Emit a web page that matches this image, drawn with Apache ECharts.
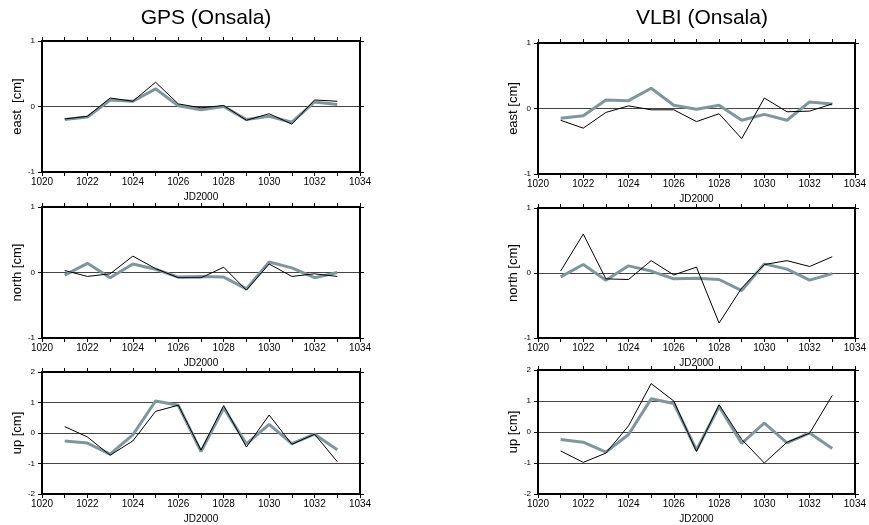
<!DOCTYPE html>
<html>
<head>
<meta charset="utf-8">
<script src="https://cdn.jsdelivr.net/npm/echarts@6/dist/echarts.min.js"></script>
<style>html,body{margin:0;padding:0;background:#fff}#c{width:869px;height:525px}</style>
</head>
<body>
<div id="c"></div>
<script>
const days = [1021,1022,1023,1024,1025,1026,1027,1028,1029,1030,1031,1032,1033];

const gpsEastBlack = [-0.19,-0.15,0.13,0.08,0.37,0.04,-0.02,0.015,-0.21,-0.11,-0.27,0.10,0.08];
const gpsEastGray  = [-0.20,-0.16,0.10,0.08,0.27,0.01,-0.05,0.00,-0.20,-0.15,-0.24,0.07,0.03];
const vlbiEastBlack = [-0.18,-0.30,-0.06,0.04,-0.02,-0.02,-0.20,-0.08,-0.46,0.16,-0.05,-0.04,0.07];
const vlbiEastGray  = [-0.15,-0.11,0.13,0.12,0.31,0.05,-0.01,0.05,-0.18,-0.09,-0.18,0.10,0.07];

const gpsNorthBlack = [0.03,-0.06,-0.02,0.25,0.06,-0.08,-0.08,0.08,-0.27,0.13,-0.06,-0.02,-0.06];
const gpsNorthGray  = [-0.04,0.14,-0.08,0.13,0.05,-0.07,-0.06,-0.07,-0.25,0.16,0.07,-0.08,0.00];
const vlbiNorthBlack = [0.03,0.60,-0.09,-0.10,0.19,-0.03,0.09,-0.77,-0.23,0.13,0.19,0.10,0.25];
const vlbiNorthGray  = [-0.06,0.13,-0.11,0.11,0.03,-0.09,-0.08,-0.10,-0.27,0.14,0.06,-0.11,-0.01];

const gpsUpBlack = [0.21,-0.13,-0.73,-0.26,0.71,0.91,-0.56,0.90,-0.46,0.59,-0.37,-0.04,-0.94];
const gpsUpGray  = [-0.26,-0.33,-0.69,-0.06,1.05,0.91,-0.61,0.82,-0.36,0.28,-0.35,-0.04,-0.55];
const vlbiUpBlack = [-0.61,-0.98,-0.68,0.20,1.56,1.00,-0.63,0.88,-0.24,-1.00,-0.33,-0.04,1.18];
const vlbiUpGray  = [-0.24,-0.33,-0.65,-0.08,1.07,0.92,-0.58,0.82,-0.37,0.29,-0.35,-0.03,-0.53];

const titles = ['GPS (Onsala)', 'VLBI (Onsala)'];
const xName = 'JD2000';

const panels = [
  {name:'east  [cm]', black:gpsEastBlack, gray:gpsEastGray, yMin:-1, yMax:1, box:{left:42, top:41, width:318, height:131}},
  {name:'east [cm]', black:vlbiEastBlack, gray:vlbiEastGray, yMin:-1, yMax:1, box:{left:538, top:43, width:317, height:131}},
  {name:'north [cm]', black:gpsNorthBlack, gray:gpsNorthGray, yMin:-1, yMax:1, box:{left:42, top:207, width:318, height:131}},
  {name:'north [cm]', black:vlbiNorthBlack, gray:vlbiNorthGray, yMin:-1, yMax:1, box:{left:538, top:208, width:317, height:130}},
  {name:'up [cm]', black:gpsUpBlack, gray:gpsUpGray, yMin:-2, yMax:2, box:{left:42, top:372, width:318, height:130}},
  {name:'up [cm]', black:vlbiUpBlack, gray:vlbiUpGray, yMin:-2, yMax:2, box:{left:538, top:370, width:317, height:131}}
];

const FONT = 'Liberation Sans, Arial, Helvetica, sans-serif';
const grid = [], xAxis = [], yAxis = [], series = [];
const lineStyle = {color:'#000', width:2};

panels.forEach((p, i) => {
  grid.push(Object.assign({containLabel:false}, p.box));
  xAxis.push({
    type:'value', gridIndex:i, min:1020, max:1034, interval:1, position:'bottom',
    name:xName, nameLocation:'middle', nameGap:20,
    nameTextStyle:{fontFamily:FONT, fontSize:10, color:'#000'},
    axisLine:{show:true, onZero:false, lineStyle},
    axisTick:{show:true, inside:false, length:4, lineStyle:{color:'#000', width:1}},
    axisLabel:{show:true, margin:5, fontFamily:FONT, fontSize:10, color:'#000',
      formatter:v => (v % 2 === 0 ? String(v) : '')},
    splitLine:{show:false}
  });
  xAxis.push({
    type:'value', gridIndex:i, min:1020, max:1034, interval:1, position:'top',
    axisLine:{show:true, onZero:false, lineStyle},
    axisTick:{show:true, inside:false, length:4, lineStyle:{color:'#000', width:1}},
    axisLabel:{show:false}, splitLine:{show:false}
  });
  yAxis.push({
    type:'value', gridIndex:i, min:p.yMin, max:p.yMax, interval:1, position:'left',
    name:p.name, nameLocation:'middle', nameGap:16,
    nameTextStyle:{fontFamily:FONT, fontSize:13, color:'#000'},
    axisLine:{show:true, onZero:false, lineStyle},
    axisTick:{show:true, inside:false, length:4, lineStyle:{color:'#000', width:1}},
    axisLabel:{show:true, margin:7, fontFamily:FONT, fontSize:8, color:'#000'},
    splitLine:{show:true, lineStyle:{color:'#444', width:1}}
  });
  yAxis.push({
    type:'value', gridIndex:i, min:p.yMin, max:p.yMax, interval:1, position:'right',
    axisLine:{show:true, onZero:false, lineStyle},
    axisTick:{show:true, inside:false, length:4, lineStyle:{color:'#000', width:1}},
    axisLabel:{show:false}, splitLine:{show:false}
  });
  const xi = i * 2, yi = i * 2;
  series.push({
    type:'line', xAxisIndex:xi, yAxisIndex:yi, showSymbol:false, silent:true,
    data: days.map((d, k) => [d, p.gray[k]]),
    lineStyle:{color:'#7f979b', width:3}, z:2
  });
  series.push({
    type:'line', xAxisIndex:xi, yAxisIndex:yi, showSymbol:false, silent:true,
    data: days.map((d, k) => [d, p.black[k]]),
    lineStyle:{color:'#000', width:1}, z:3
  });
});

const chart = echarts.init(document.getElementById('c'), null, {renderer:'canvas'});
chart.setOption({
  animation:false,
  backgroundColor:'#fff',
  title:[
    {text:titles[0], left:201, top:3, textAlign:'center', textStyle:{fontFamily:FONT, fontSize:21, fontWeight:'normal', color:'#000'}},
    {text:titles[1], left:697, top:3, textAlign:'center', textStyle:{fontFamily:FONT, fontSize:21, fontWeight:'normal', color:'#000'}}
  ],
  grid, xAxis, yAxis, series
});
</script>
</body>
</html>
